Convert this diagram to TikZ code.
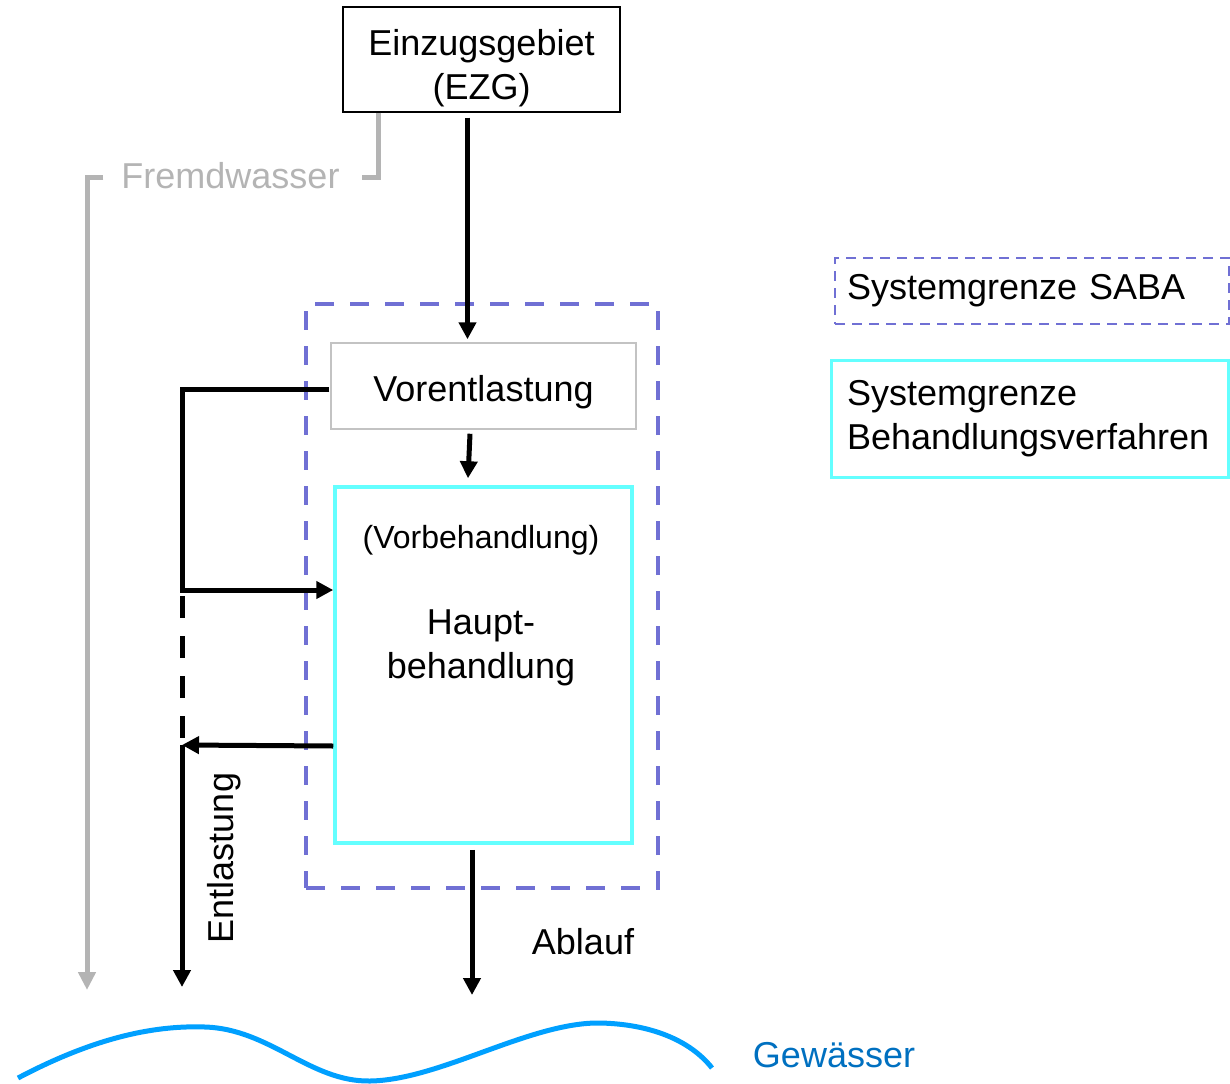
\documentclass[tikz,border=0pt]{standalone}
\usepackage{fontspec}
\setmainfont{Liberation Sans}
\usetikzlibrary{arrows.meta,positioning}
\definecolor{sabablau}{RGB}{112,112,212}
\definecolor{verfcyan}{RGB}{100,255,255}
\definecolor{fwgrau}{RGB}{180,180,180}
\definecolor{vegrau}{RGB}{195,195,195}
\definecolor{wellblau}{RGB}{0,160,255}
\definecolor{gewblau}{RGB}{0,112,192}
\begin{document}
\begin{tikzpicture}[x=1pt,y=-1pt,font=\fontsize{36}{44}\selectfont,
  pfeil/.style={line width=5pt,-{Triangle[length=17pt,width=17pt]}},
  fwlinie/.style={fwgrau,line width=5pt},
  sabarand/.style={draw=sabablau,line width=4.5pt,dash pattern=on 19pt off 16pt},
  verfrand/.style={draw=verfcyan,line width=3.5pt}]
\useasboundingbox (0,0) rectangle (1230,1083);
%boxes
\node[draw,line width=1.5pt,minimum width=277pt,minimum height=105pt,align=center,inner sep=0pt] (ezg) at (481.5,59.5) {\rule{0pt}{44pt}Einzugsgebiet\\(EZG)};
\node[sabarand,minimum width=352pt,minimum height=584pt] (saba) at (482,596) {};
\node[draw=vegrau,line width=1.5pt,minimum width=305pt,minimum height=86pt,text height=31pt,text depth=0pt] (vorent) at (483.5,386) {Vorentlastung};
\node[verfrand,minimum width=297pt,minimum height=356pt] (haupt) at (483.5,665) {};
\node[font=\fontsize{32}{38}\selectfont] (vorbeh) at (481,540) {(Vorbehandlung)};
\node[align=center] (hb) at (481,648) {Haupt-\\behandlung};
%main flow
\coordinate (ablende) at (472,995);
\draw[pfeil] ([xshift=-14pt,yshift=-5pt]ezg.south) -- ([xshift=-16pt,yshift=3pt]vorent.north);
\draw[pfeil] ([xshift=-13.5pt,yshift=-4pt]vorent.south) -- ([xshift=-15.5pt,yshift=7pt]haupt.north);
\draw[pfeil] ([xshift=-11.5pt,yshift=-5pt]haupt.south) -- (ablende);
\node (ablauf) at (583,942) {Ablauf};
%entlastung
\coordinate (k1) at (182,590);
\coordinate (k2) at (182,745);
\coordinate (entende) at (182,987);
\draw[pfeil] ([xshift=-1pt,yshift=-3pt]vorent.west) -| (k1) -- (k1 -| haupt.west);
\draw[line width=5pt,dash pattern=on 22pt off 18pt] ([yshift=-6pt]k1) -- (k2);
\draw[pfeil] ([yshift=-81pt]haupt.west) -- (k2);
\draw[pfeil] (k2) -- (entende);
\node[rotate=90] (entl) at (224,858) {Entlastung};
%fremdwasser
\node[text=fwgrau,inner sep=0pt] (fremd) at (230.5,176) {Fremdwasser};
\coordinate (fwende) at (87,990);
\draw[fwlinie] ([xshift=-103.5pt]ezg.south) |- ([xshift=22pt,yshift=-2pt]fremd.east);
\draw[fwlinie,-{Triangle[length=18pt,width=17pt]}] ([xshift=-18pt,yshift=-2pt]fremd.west) -| (fwende);
%gewaesser
\draw[wellblau,line width=5pt] (18,1078) .. controls (90,1040) and (150,1025) .. (205,1027)
  .. controls (270,1029) and (310,1082) .. (370,1081)
  .. controls (440,1080) and (530,1022) .. (600,1023)
  .. controls (650,1024) and (690,1040) .. (712,1068);
\node[text=gewblau] (gew) at (834,1055) {Gewässer};
%legende
\node[draw=sabablau,line width=2.5pt,dash pattern=on 10pt off 7pt,minimum width=394pt,minimum height=66pt,text width=370pt,inner xsep=12pt,align=left] (lsaba) at (1032,291) {Systemgrenze SABA};
\node[verfrand,line width=3pt,minimum width=397pt,minimum height=117pt,text width=365pt,inner xsep=16pt,align=left] (lverf) at (1029.5,418.5) {Systemgrenze\\Behandlungsverfahren};
\end{tikzpicture}
\end{document}
